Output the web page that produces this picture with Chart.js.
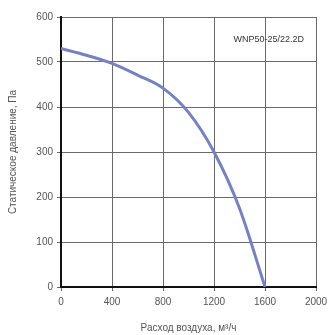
<!DOCTYPE html>
<html>
<head>
<meta charset="utf-8">
<script src="https://cdn.jsdelivr.net/npm/chart.js@4/dist/chart.umd.min.js"></script>
<style>
  html, body { margin: 0; padding: 0; background: #fff; }
  #wrap { width: 334px; height: 335px; }
</style>
</head>
<body>
<div id="wrap"><canvas id="fanChart"></canvas></div>
<script>
// curve
const airflow = [0, 200, 400, 600, 800, 1000, 1200, 1400, 1600];
const pressure = [530, 515, 497, 471, 442, 388, 300, 175, 0];
const xTicks = [0, 400, 800, 1200, 1600, 2000];
const yTicks = [0, 100, 200, 300, 400, 500, 600];
const modelName = "WNP50-25/22.2D";

const points = airflow.map((x, i) => ({ x: x, y: pressure[i] }));

// model label inside the plot, top right
const modelLabel = {
    id: "modelLabel",
    afterDraw(chart) {
        const ctx = chart.ctx;
        const a = chart.chartArea;
        ctx.save();
        ctx.font = "9px 'Liberation Sans', Arial, sans-serif";
        ctx.fillStyle = "#333";
        ctx.textAlign = "right";
        ctx.textBaseline = "middle";
        ctx.fillText(modelName, a.right - 12, a.top + 23);
        ctx.restore();
    }
};

new Chart(document.getElementById("fanChart").getContext("2d"), {
    type: "line",
    data: {
        datasets: [{
            data: points,
            borderColor: "#7482c4",
            borderWidth: 3,
            pointRadius: 0,
            fill: false,
            cubicInterpolationMode: "monotone"
        }]
    },
    options: {
        responsive: true,
        maintainAspectRatio: false,
        animation: false,
        layout: { padding: { top: 17, right: 18, left: 0, bottom: 0 } },
        plugins: { legend: { display: false }, tooltip: { enabled: false } },
        scales: {
            x: {
                type: "linear",
                min: 0, max: 2000,
                afterBuildTicks: s => { s.ticks = xTicks.map(v => ({ value: v })); },
                afterFit: s => { s.height = 48; },
                grid: { color: "#6a6a6a", lineWidth: 1, tickLength: 4, tickColor: "#6a6a6a" },
                border: { color: "#111", width: 2 },
                ticks: { color: "#555", font: { size: 10, family: "'Liberation Sans', Arial" }, padding: 5, maxRotation: 0, callback: v => String(v) },
                title: { display: true, text: "Расход воздуха, м³/ч", color: "#555", font: { size: 10, family: "'Liberation Sans', Arial" }, padding: { top: 2, bottom: 1 } }
            },
            y: {
                min: 0, max: 600,
                afterBuildTicks: s => { s.ticks = yTicks.map(v => ({ value: v })); },
                afterFit: s => { s.width = 61; },
                grid: { color: "#6a6a6a", lineWidth: 1, tickLength: 4, tickColor: "#6a6a6a" },
                border: { color: "#111", width: 2 },
                ticks: { color: "#555", font: { size: 10, family: "'Liberation Sans', Arial" }, padding: 4, callback: v => String(v) },
                title: { display: true, text: "Статическое давление, Па", color: "#555", font: { size: 10, family: "'Liberation Sans', Arial" }, padding: { top: 7, bottom: 2 } }
            }
        }
    },
    plugins: [modelLabel]
});
</script>
</body>
</html>
